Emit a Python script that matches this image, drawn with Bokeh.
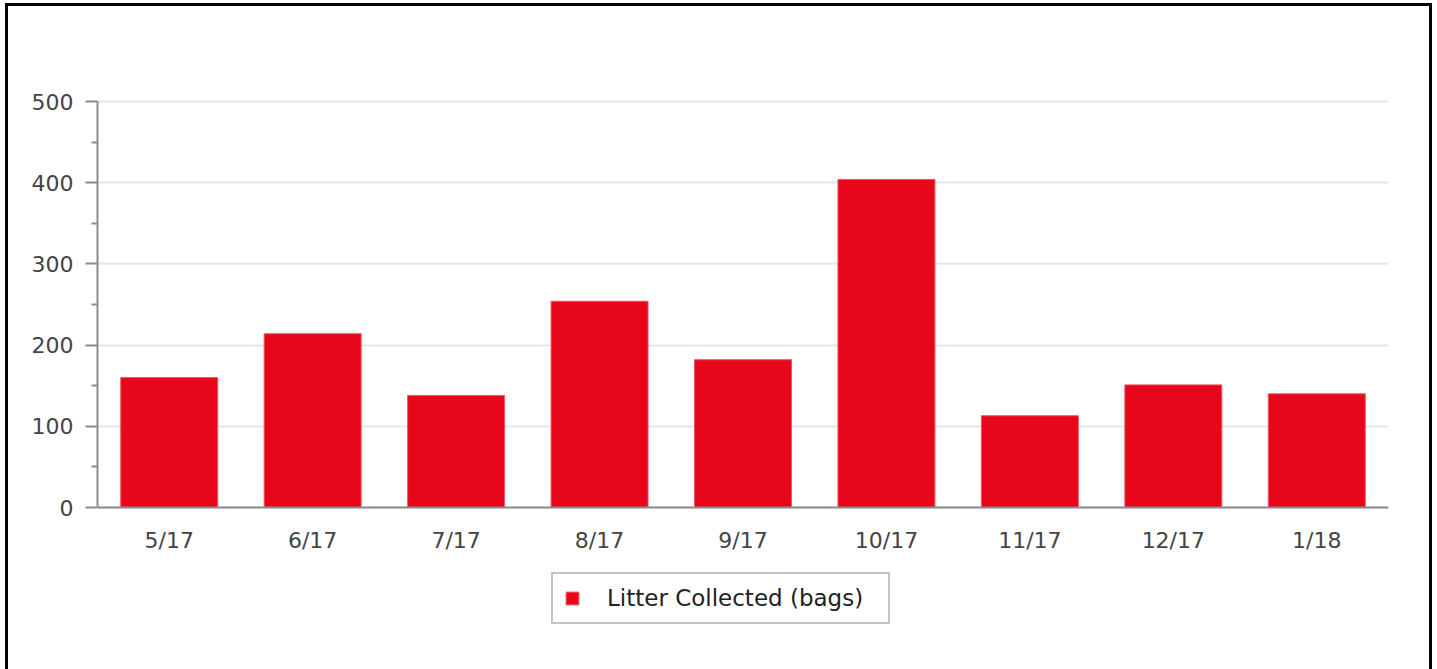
from bokeh.plotting import figure
from bokeh.models import ColumnDataSource, FixedTicker, Legend, LegendItem
from bokeh.embed import file_html
from bokeh.resources import INLINE

months = ["5/17", "6/17", "7/17", "8/17", "9/17", "10/17", "11/17", "12/17", "1/18"]
bags = [160, 214, 138, 254, 182, 404, 113, 151, 140]
y_ticks = [0, 100, 200, 300, 400, 500]
y_minor = [50, 150, 250, 350, 450]
series_name = "Litter Collected (bags)"

src = ColumnDataSource(dict(month=months, bags=bags))

FONT = "DejaVu Sans"
# layout (pixels)
FRAME_W, FRAME_H = 1291, 570
PX_PER_500 = 406           # pixel height of the 0..500 value span
TOP_PAD_PX = 2             # frame starts slightly above the 500 line
y_top = 500 + TOP_PAD_PX * 500 / PX_PER_500
y_bottom = y_top - FRAME_H * 500 / PX_PER_500

p = figure(x_range=months, y_range=(y_bottom, y_top),
           frame_width=FRAME_W, frame_height=FRAME_H,
           output_backend="svg", toolbar_location=None,
           min_border_left=89, min_border_top=93, min_border_right=41,
           min_border_bottom=0)
p.styles = {"border-top": "3px solid black", "border-left": "3px solid black",
            "border-right": "3px solid black", "margin-left": "5px", "margin-top": "3px",
            "box-sizing": "content-box"}
p.outline_line_color = None
p.background_fill_color = "white"
p.border_fill_color = "white"

r = p.vbar(x="month", top="bags", bottom=0, width=0.676, source=src,
           fill_color="#e7061a", line_color="#ee5560", line_width=1)

p.xgrid.grid_line_color = None
p.ygrid.grid_line_color = "#e6e6e6"
p.ygrid.grid_line_width = 2
p.yaxis.ticker = FixedTicker(ticks=y_ticks, minor_ticks=y_minor)
p.yaxis.bounds = (0, 500)

for ax in (p.xaxis[0], p.yaxis[0]):
    ax.axis_line_color = "#8c8c8c"
    ax.axis_line_width = 2
    ax.major_tick_line_color = "#8c8c8c"
    ax.major_tick_line_width = 2
    ax.minor_tick_line_color = "#8c8c8c"
    ax.minor_tick_line_width = 2
    ax.major_label_text_font = FONT
    ax.major_label_text_font_size = "22px"
    ax.major_label_text_color = "#444444"

p.yaxis.major_tick_in = 0
p.yaxis.major_tick_out = 12
p.yaxis.minor_tick_in = 0
p.yaxis.minor_tick_out = 6
p.yaxis.major_label_standoff = 12

p.xaxis.fixed_location = 0
p.xaxis.major_tick_line_color = None
p.xaxis.minor_tick_line_color = None
p.xaxis.major_tick_out = 0
p.xaxis.major_tick_in = 0
p.xaxis.major_label_standoff = 20

legend = Legend(items=[LegendItem(label=series_name, renderers=[r])],
                location=(454, 45), orientation="horizontal",
                label_text_font=FONT, label_text_font_size="23px",
                label_text_color="#222222",
                glyph_width=16, glyph_height=16, label_standoff=27,
                label_width=270, padding=11, margin=0,
                border_line_color="#8c8c8c", border_line_width=2,
                background_fill_color="white")
p.add_layout(legend, "center")

open("out.html", "w").write(file_html(p, INLINE))
